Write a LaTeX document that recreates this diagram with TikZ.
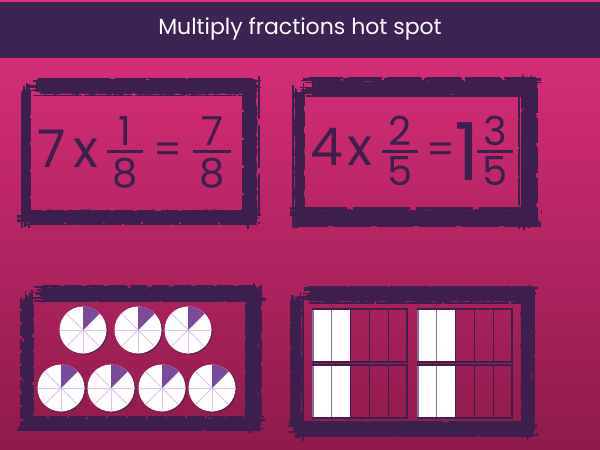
\documentclass[tikz,border=0pt]{standalone}
\usepackage{fontspec}
\setmainfont{Poppins}
\usetikzlibrary{decorations.pathmorphing}
\definecolor{hdr}{HTML}{3D2354}
\definecolor{frm}{HTML}{3B1F4F}
\definecolor{bgtop}{HTML}{E02F7E}
\definecolor{bgbot}{HTML}{8E1A4B}
\definecolor{piep}{HTML}{7C4A9C}
\definecolor{piel}{HTML}{DCC6E6}
\definecolor{celll}{HTML}{8C6E9E}
\tikzset{
 core/.style={fill=frm, decorate, decoration={random steps, segment length=2.5pt, amplitude=1pt}},
 num/.style={text=frm, inner sep=0pt, anchor=base, font=\fontsize{52}{52}\selectfont},
 fr/.style={text=frm, inner sep=0pt, anchor=base, font=\fontsize{40}{40}\selectfont},
 fbar/.style={draw=frm, line width=3pt},
 cell/.style={draw=frm, line width=1.2pt},
}
% horizontal brush band: x1 x2 y thickness
\newcommand{\brushh}[4]{%
 \pgfmathsetmacro\bxa{#1}\pgfmathsetmacro\bxb{#2}%
 \pgfmathsetmacro\bya{#3}\pgfmathsetmacro\bth{#4}%
 \pgfmathsetmacro\cxa{\bxa+10}\pgfmathsetmacro\cxb{\bxb-3}%
 \pgfmathsetmacro\cya{\bya+0.14*\bth}\pgfmathsetmacro\cyb{\bya+0.86*\bth}%
 \fill[core] (\cxa,\cya) rectangle (\cxb,\cyb);
 \foreach \k in {1,...,16}{%
  \pgfmathsetmacro\oy{\bya+rnd*\bth}%
  \pgfmathsetmacro\xa{\bxa+rnd*18-4}%
  \pgfmathsetmacro\xb{\bxb-rnd*18+4}%
  \pgfmathsetmacro\lw{0.8+rnd*2.4}%
  \pgfmathsetmacro\da{15+rnd*60}%
  \pgfmathsetmacro\db{1+rnd*5}%
  \draw[frm, line width=\lw pt, dash pattern=on \da pt off \db pt] (\xa,\oy) -- (\xb,\oy);
 }%
}
% vertical brush band: y1 y2 x thickness
\newcommand{\brushv}[4]{%
 \pgfmathsetmacro\bya{#1}\pgfmathsetmacro\byb{#2}%
 \pgfmathsetmacro\bxa{#3}\pgfmathsetmacro\bth{#4}%
 \pgfmathsetmacro\cya{\bya+6}\pgfmathsetmacro\cyb{\byb-4}%
 \pgfmathsetmacro\cxa{\bxa+0.18*\bth}\pgfmathsetmacro\cxb{\bxa+0.82*\bth}%
 \fill[core] (\cxa,\cya) rectangle (\cxb,\cyb);
 \foreach \k in {1,...,12}{%
  \pgfmathsetmacro\ox{\bxa+rnd*\bth}%
  \pgfmathsetmacro\ya{\bya+rnd*18-4}%
  \pgfmathsetmacro\yb{\byb-rnd*18+4}%
  \pgfmathsetmacro\lw{0.8+rnd*2.2}%
  \pgfmathsetmacro\da{10+rnd*40}%
  \pgfmathsetmacro\db{1+rnd*5}%
  \draw[frm, line width=\lw pt, dash pattern=on \da pt off \db pt] (\ox,\ya) -- (\ox,\yb);
 }%
}
% frame: outer x1 y1 x2 y2, inner ix1 iy1 ix2 iy2
\newcommand{\grungeframe}[8]{%
 \brushh{#1+10}{#3}{#2}{#6-#2}
 \brushh{#1}{#3}{#8}{#4-#8}
 \brushv{#2+8}{#4}{#1}{#5-#1}
 \brushv{#2}{#4}{#7}{#3-#7}
}
\newcommand{\fracpie}[2]{%
 \fill[frm, opacity=0.6] (#1+1.2,#2+1.2) circle (23.5);
 \fill[white] (#1,#2) circle (23.5);
 \foreach \a in {0,45,...,315} \draw[piel, line width=0.8pt] (#1,#2) -- ++(\a:23.5);
 \fill[piep] (#1,#2) -- ++(-90:23.5) arc[start angle=-90, end angle=-45, radius=23.5] -- cycle;
}
\newcommand{\fracbar}[2]{%
 \fill[white] (#1,#2) rectangle ++(37.6,53);
 \foreach \i in {0,...,4} \draw[cell] (#1+\i*18.8,#2) rectangle ++(18.8,53);
 \draw[celll, line width=1.2pt] (#1+18.8,#2+0.6) -- ++(0,51.8);
 \draw[celll, line width=1.2pt] (#1,#2+0.6) -- ++(0,51.8);
}
\begin{document}
\begin{tikzpicture}[x=1pt,y=-1pt]
\pgfmathsetseed{7}
\useasboundingbox (0,0) rectangle (600,450);
\shade[top color=bgtop, bottom color=bgbot] (0,0) rectangle (600,450);
\fill[hdr] (0,1.5) rectangle (600,58);
\node[text=white, font=\fontsize{22}{22}\selectfont] (title) at (300,29) {Multiply fractions hot spot};

% frames
\grungeframe{20}{78}{260}{225}{31}{97}{242}{208}
\grungeframe{292}{78}{540}{226}{306}{97}{519}{207}
\grungeframe{21}{285}{262}{430}{33}{302}{242}{417}
\grungeframe{291}{287}{535}{437}{304}{304}{518}{420}

% equation 1
\node[num] (a7) at (52,167) {7};
\node[num] (ax) at (86,167) {x};
\node[fr] (an1) at (125,145) {1};
\draw[fbar] (107,151) -- (143,151);
\node[fr] (ad1) at (125,187) {8};
\node[fr] (aeq) at (168,163) {=};
\node[fr] (an2) at (212,145) {7};
\draw[fbar] (193,151) -- (231,151);
\node[fr] (ad2) at (212,187) {8};

% equation 2
\node[num] (b4) at (327,165) {4};
\node[num] (bx) at (360,165) {x};
\node[fr] (bn1) at (400,145) {2};
\draw[fbar] (382,151) -- (418,151);
\node[fr] (bd1) at (400,185) {5};
\node[fr] (beq) at (441,163) {=};
\node[text=frm, inner sep=0pt, anchor=base, font=\fontsize{80}{80}\selectfont] (b1) at (467,180) {1};
\node[fr] (bn2) at (495,145) {3};
\draw[fbar] (477,151) -- (513,151);
\node[fr] (bd2) at (495,185) {5};

% pies
\fracpie{83}{330}
\fracpie{138}{330}
\fracpie{188}{330}
\fracpie{61}{388}
\fracpie{111}{388}
\fracpie{162}{388}
\fracpie{212}{388}

% bars
\fracbar{313}{309}
\fracbar{418}{309}
\fracbar{313}{365}
\fracbar{418}{365}
\end{tikzpicture}
\end{document}
